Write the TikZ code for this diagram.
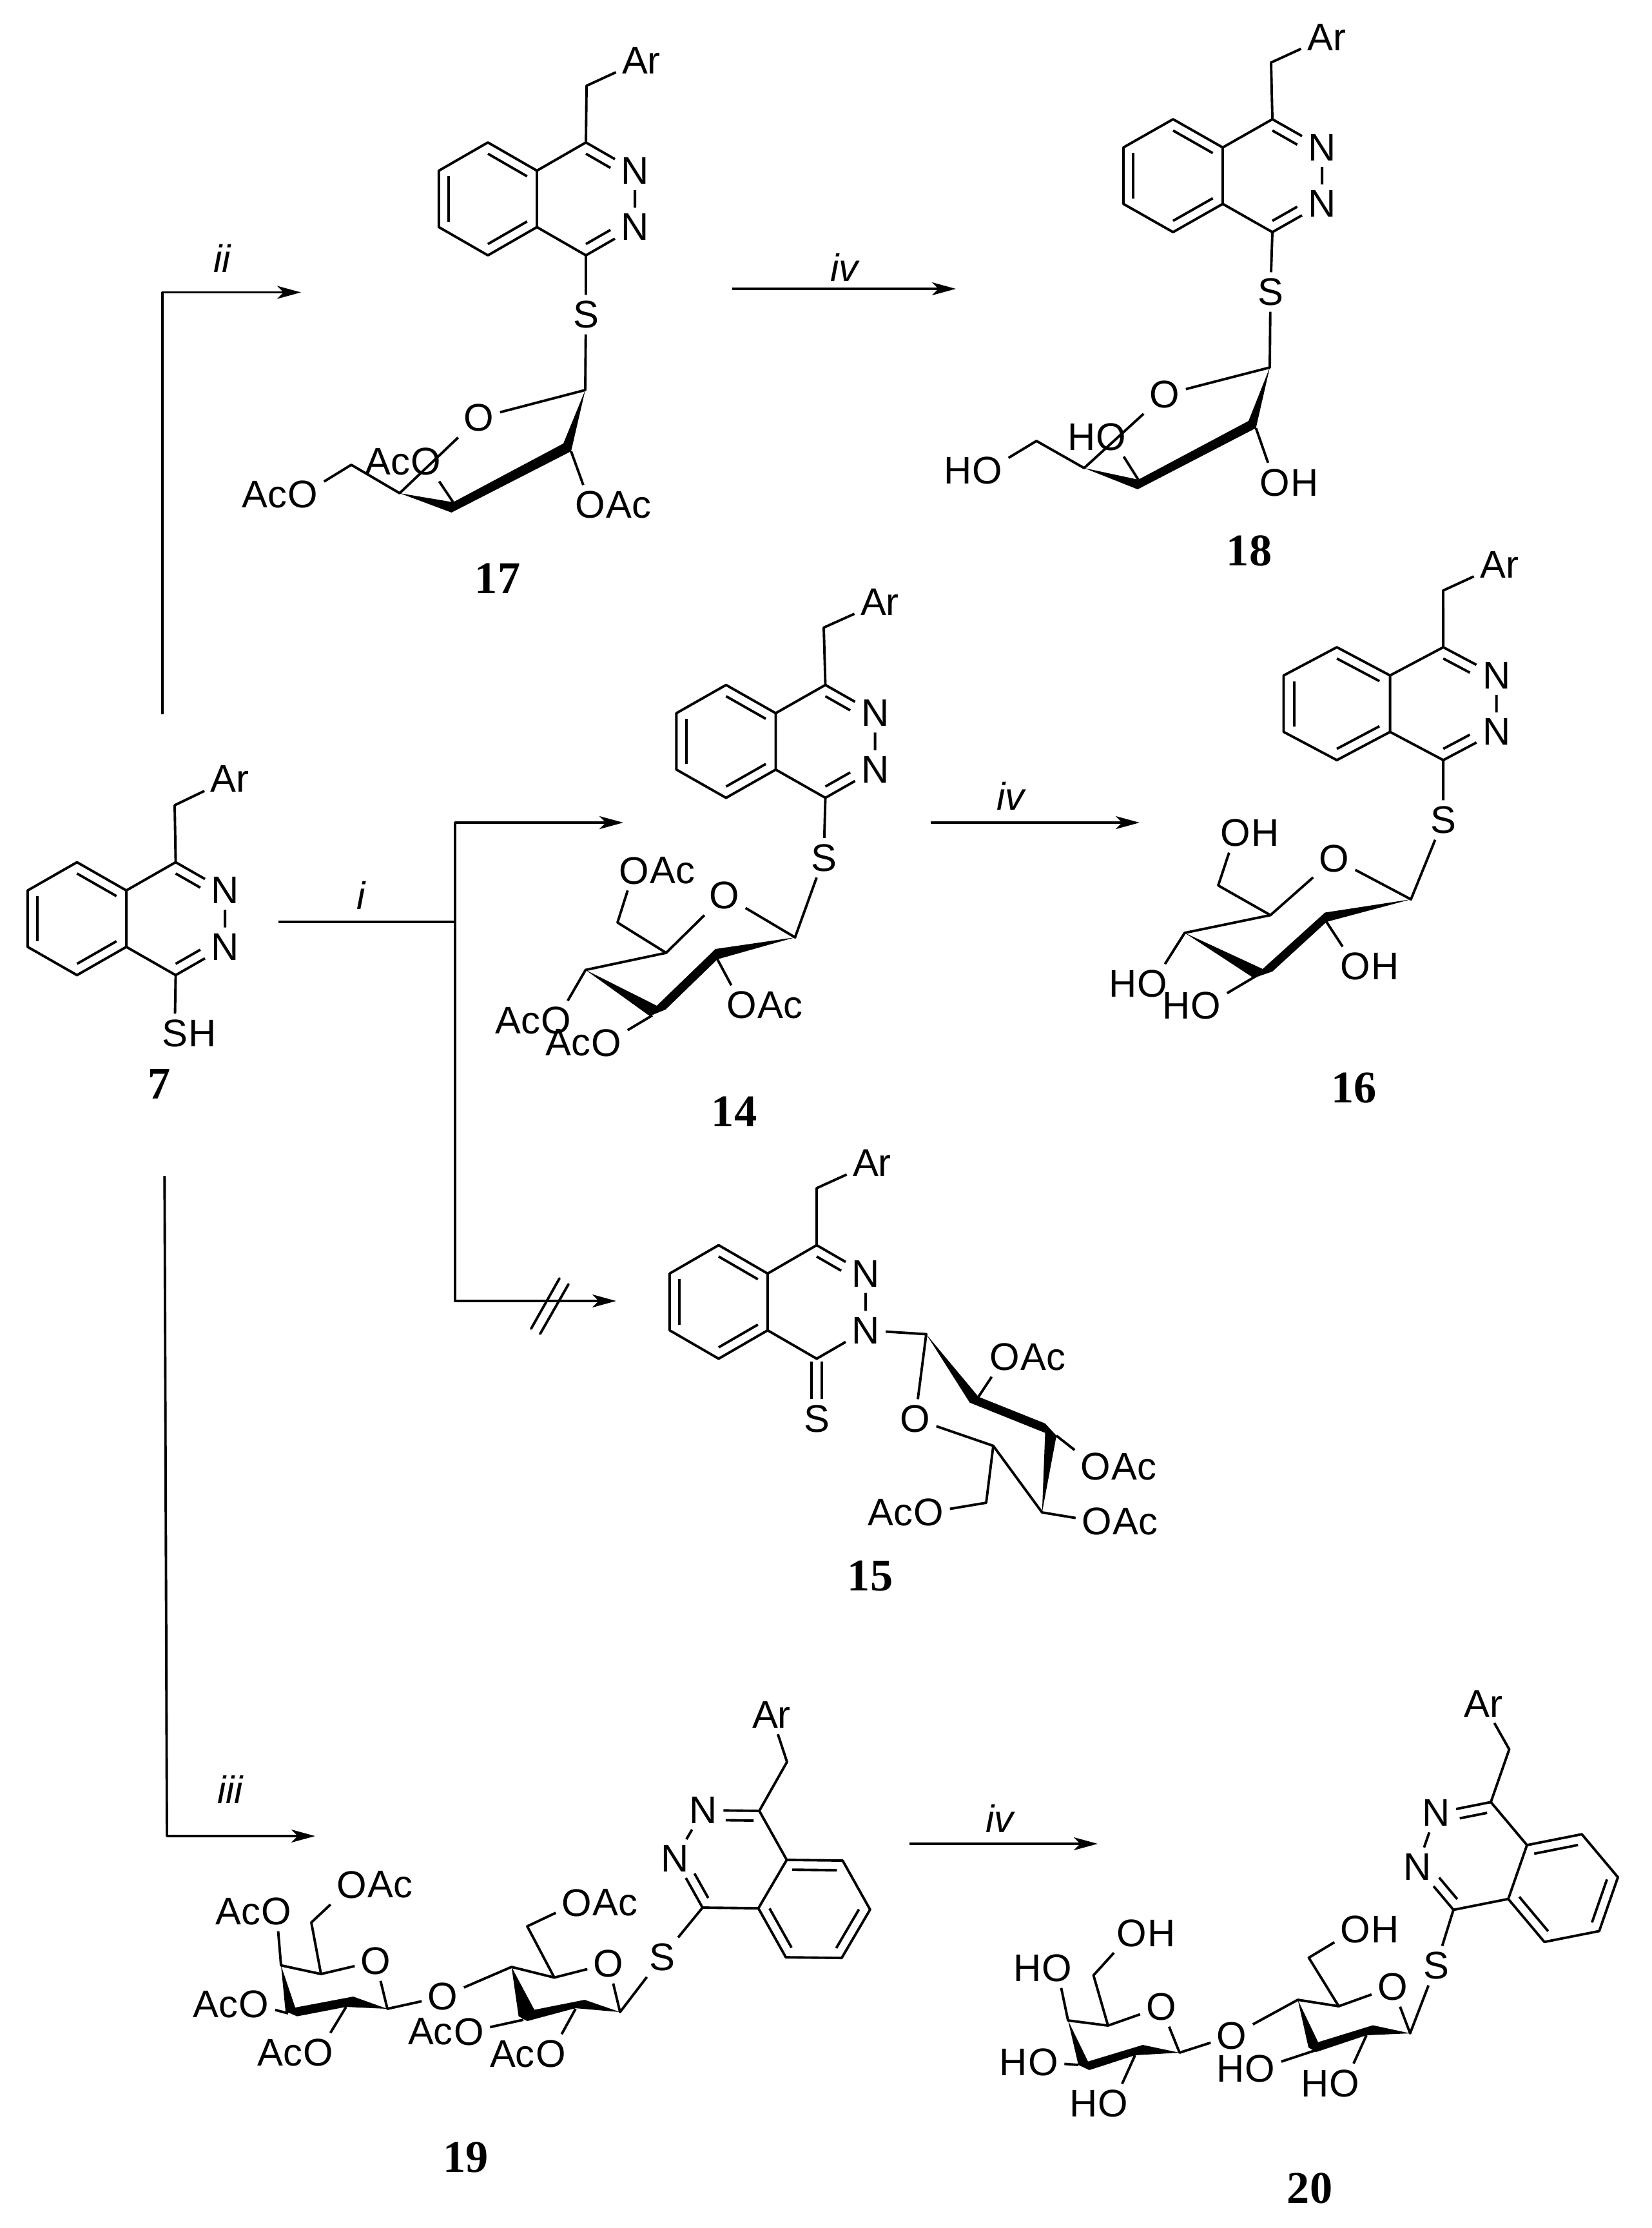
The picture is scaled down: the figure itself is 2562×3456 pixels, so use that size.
\documentclass[tikz,border=0pt]{standalone}
\usepackage{fontspec}
\setmainfont{Liberation Sans}
\newfontfamily\numfont{Liberation Serif}
\usetikzlibrary{arrows.meta}

\begin{document}
\begin{tikzpicture}[x=.01cm,y=-.01cm]

\tikzset{bond/.style = {line width=1.1pt,line join=round}}
\tikzset{arrow/.style = {line width=1.1pt,line join=round,-{Stealth[length=.37cm,width=.2cm,inset=.1cm]}}}
\tikzset{atom/.style = {inner sep=2.5pt,font=\fontsize{17}{20}\selectfont}}
\tikzset{tail/.style = {inner sep=0pt,label distance=-2.5pt,font=\fontsize{17}{20}\selectfont}}
\tikzset{acr/.style = {label={[tail]right:Ac}}}
\tikzset{acl/.style = {label={[tail]left:Ac}}}
\tikzset{hr/.style = {label={[tail]right:H}}}
\tikzset{hl/.style = {label={[tail]left:H}}}
\tikzset{cond/.style = {inner sep=0pt,font=\fontsize{17}{20}\selectfont\itshape}}
\tikzset{num/.style = {inner sep=0pt,font=\fontsize{20}{24}\selectfont\numfont\bfseries}}
\tikzset{phthal/.pic = {
  \coordinate (-j1) at (0,-.5);
  \coordinate (-j2) at (0,.5);
  \coordinate (-c4) at (1,-1);
  \coordinate (-c1) at (1,1);
  \coordinate (-b1) at (-1,-1);
  \coordinate (-b2) at (-2,-.5);
  \coordinate (-b3) at (-2,.5);
  \coordinate (-b4) at (-1,1);
  \node[atom] (-n1) at (2,-.5) {N};
  \node[atom] (-n2) at (2,.5) {N};
  \draw[bond] (-j1) -- (-j2) -- (-c1) -- (-n2) -- (-n1) -- (-c4) -- (-j1) -- (-b1) -- (-b2) -- (-b3) -- (-b4) -- (-j2);
  \draw[bond] (-1,-.8) -- (-.2,-.4);
  \draw[bond] (-1.8,-.4) -- (-1.8,.4);
  \draw[bond] (-1,.8) -- (-.2,.4);
  \draw[bond] (1,-.8) -- (1.5,-.55);
}}
\tikzset{cninner/.pic = {\draw[bond] (1,.8) -- (1.5,.55);}}

\useasboundingbox (0,0) rectangle (2562,3456);

%compound 7
\begin{scope}[shift={(196,1425)},x={(.765cm,0cm)},y={(0cm,-.875cm)}]
\pic (m7) at (0,0) {phthal};
\pic (i7) at (0,0) {cninner};
\end{scope}
\coordinate (ch7) at (271,1249);
\node[atom] (ar7) at (356.5,1208) {Ar};
\node[atom,label={[tail]right:H}] (s7) at (271,1603) {S};
\node[num] (n7) at (247,1681) {7};
\draw[bond] (m7-c4) -- (ch7) -- (ar7);
\draw[bond] (m7-c1) -- (s7);

%compound 17
\begin{scope}[shift={(833,308.5)},x={(.76cm,0cm)},y={(0cm,-.875cm)}]
\pic (m17) at (0,0) {phthal};
\pic (i17) at (0,0) {cninner};
\end{scope}
\coordinate (ch17) at (910,133);
\node[atom] (ar17) at (995,94) {Ar};
\node[atom] (s17) at (909,488) {S};
\coordinate (a17) at (908,605);
\coordinate (b17) at (886,700);
\coordinate (c17) at (703,779);
\coordinate (d17) at (620,765);
\coordinate (e17) at (545,721);
\node[atom] (o17) at (743,648) {O};
\node[atom,acl] (p17) at (661,716) {O};
\node[atom,acl] (q17) at (470,767) {O};
\node[atom,acr] (r17) at (916,783) {O};
\node[num] (n17) at (772,897) {17};
\fill (a17) -- (874,688) -- (c17) -- (d17) -- (700.5,795) -- (b17) -- cycle;
\draw[bond] (m17-c4) -- (ch17) -- (ar17);
\draw[bond] (m17-c1) -- (s17) -- (a17) -- (o17) -- (d17) -- (e17) -- (q17);
\draw[bond] (c17) -- (p17);
\draw[bond] (b17) -- (r17);

%compound 18
\begin{scope}[shift={(1897,272.5)},x={(.77cm,0cm)},y={(0cm,-.875cm)}]
\pic (m18) at (0,0) {phthal};
\pic (i18) at (0,0) {cninner};
\end{scope}
\coordinate (ch18) at (1972,97);
\node[atom] (ar18) at (2058,57.6) {Ar};
\node[atom] (s18) at (1971,453) {S};
\coordinate (a18) at (1970,570);
\coordinate (b18) at (1948.5,664);
\coordinate (c18) at (1766,744);
\coordinate (d18) at (1682,726);
\coordinate (e18) at (1608,684);
\node[atom] (o18) at (1807,612) {O};
\node[atom,hl] (p18) at (1724,677.6) {O};
\node[atom,hl] (q18) at (1532,730) {O};
\node[atom,hr] (r18) at (1978,748.5) {O};
\node[num] (n18) at (1938,854.5) {18};
\fill (a18) -- (1937,653) -- (c18) -- (d18) -- (1765,759) -- (b18) -- cycle;
\draw[bond] (m18-c4) -- (ch18) -- (ar18);
\draw[bond] (m18-c1) -- (s18) -- (a18) -- (o18) -- (d18) -- (e18) -- (q18);
\draw[bond] (c18) -- (p18);
\draw[bond] (b18) -- (r18);

%compound 14
\begin{scope}[shift={(1203.5,1150)},x={(.77cm,0cm)},y={(0cm,-.875cm)}]
\pic (m14) at (0,0) {phthal};
\pic (i14) at (0,0) {cninner};
\end{scope}
\coordinate (ch14) at (1278,973.5);
\node[atom] (ar14) at (1365,934.4) {Ar};
\node[atom] (s14) at (1278,1330.5) {S};
\coordinate (a14) at (1233.5,1454);
\coordinate (b14) at (1113,1488);
\coordinate (c14) at (1012,1575);
\coordinate (d14) at (908.5,1504.5);
\coordinate (e14) at (1033.5,1478);
\coordinate (f14) at (958,1431);
\node[atom] (o14) at (1124,1389) {O};
\node[atom,acr] (p14) at (983.5,1350.6) {O};
\node[atom,acr] (q14) at (1151,1559) {O};
\node[atom,acl] (r14) at (863,1583) {O};
\node[atom,acl] (t14) at (941,1617.6) {O};
\node[num] (n14) at (1139,1724) {14};
\fill (a14) -- (1110,1472) -- (1019,1560) -- (d14) -- (1008,1576) -- (1032.6,1566) -- (b14) -- cycle;
\draw[bond] (m14-c4) -- (ch14) -- (ar14);
\draw[bond] (m14-c1) -- (s14) -- (a14) -- (o14) -- (e14) -- (d14) -- (r14);
\draw[bond] (e14) -- (f14) -- (p14);
\draw[bond] (b14) -- (q14);
\draw[bond] (c14) -- (t14);

%compound 16
\begin{scope}[shift={(2156.6,1091.5)},x={(.825cm,0cm)},y={(0cm,-.875cm)}]
\pic (m16) at (0,0) {phthal};
\pic (i16) at (0,0) {cninner};
\end{scope}
\coordinate (ch16) at (2239,916);
\node[atom] (ar16) at (2326,876) {Ar};
\node[atom] (s16) at (2239,1272) {S};
\coordinate (a16) at (2189,1395);
\coordinate (b16) at (2058,1430);
\coordinate (c16) at (1952,1512);
\coordinate (d16) at (1838,1447);
\coordinate (e16) at (1971,1419.5);
\coordinate (f16) at (1890,1373.5);
\node[atom] (o16) at (2070,1332) {O};
\node[atom,hr] (p16) at (1917,1292) {O};
\node[atom,hr] (q16) at (2103,1499) {O};
\node[atom,hl] (r16) at (1788,1526) {O};
\node[atom,hl] (t16) at (1871,1560) {O};
\node[num] (n16) at (2100.5,1688) {16};
\fill (a16) -- (2055.6,1415.5) -- (1959,1503) -- (d16) -- (1945,1517) -- (1974,1507) -- (b16) -- cycle;
\draw[bond] (m16-c4) -- (ch16) -- (ar16);
\draw[bond] (m16-c1) -- (s16) -- (a16) -- (o16) -- (e16) -- (d16) -- (r16);
\draw[bond] (e16) -- (f16) -- (p16);
\draw[bond] (b16) -- (q16);
\draw[bond] (c16) -- (t16);

%compound 15
\node[atom] (s15) at (1267,2201) {S};
\coordinate (ch15) at (1267,1843);
\node[atom] (ar15) at (1353,1804) {Ar};
\coordinate (a15) at (1437,2069.5);
\coordinate (b15) at (1518,2166.6);
\coordinate (c15) at (1639,2227);
\coordinate (d15) at (1616.7,2346);
\coordinate (e15) at (1541,2242.7);
\coordinate (f15) at (1530,2331);
\node[atom] (o15) at (1420,2201) {O};
\node[atom,acr] (p15) at (1559,2105) {O};
\node[atom,acr] (q15) at (1700,2275) {O};
\node[atom,acr] (r15) at (1701.5,2360) {O};
\node[atom,acl] (t15) at (1441,2346) {O};
\node[num] (n15) at (1350,2445) {15};
\draw[bond,double,double distance=.125cm] (1267,2112) -- (s15);
\begin{scope}[shift={(1191,2019.5)},x={(.76cm,0cm)},y={(0cm,-.88cm)}]
\pic (m15) at (0,0) {phthal};
\end{scope}
\fill (a15) -- (b15) -- (1621.5,2208) -- (c15) -- (d15) -- (1621.5,2222.6) -- (1504.5,2175.7) -- cycle;
\draw[bond] (m15-c4) -- (ch15) -- (ar15);
\draw[bond] (m15-n2) -- (a15) -- (o15) -- (e15) -- (d15) -- (r15);
\draw[bond] (e15) -- (f15) -- (t15);
\draw[bond] (b15) -- (p15);
\draw[bond] (c15) -- (q15);

%compound 19
\begin{scope}[shift={(1198.6,2922.5)},x={(-.646cm,.385cm)},y={(-.44cm,-.75cm)}]
\pic (m19) at (0,0) {phthal};
\pic (i19) at (0,0) {cninner};
\end{scope}
\coordinate (ch19) at (1221,2733);
\node[atom] (ar19) at (1197,2660) {Ar};
\node[atom] (s19) at (1027,3036) {S};
\coordinate (a19) at (962,3121);
\coordinate (b19) at (893,3116);
\coordinate (c19) at (812,3133);
\coordinate (d19) at (793.6,3051);
\coordinate (e19) at (860,3067.5);
\coordinate (f19) at (818,2988);
\node[atom] (o19) at (944,3046) {O};
\node[atom,acr] (p19) at (895,2951.6) {O};
\node[atom,acl] (q19) at (727.5,3151.6) {O};
\node[atom,acl] (r19) at (854.5,3186) {O};
\node[atom] (l19) at (687,3097) {O};
\coordinate (g19) at (601,3116);
\coordinate (h19) at (537,3113);
\coordinate (j19) at (447,3123);
\coordinate (k19) at (436,3048.6);
\coordinate (u19) at (498,3062);
\coordinate (v19) at (483,2982);
\node[atom] (w19) at (583,3042) {O};
\node[atom,acr] (x19) at (545.6,2923.6) {O};
\node[atom,acl] (y19) at (429,2965) {O};
\node[atom,acl] (z19) at (394,3109) {O};
\node[atom,acl] (t19) at (494,3184) {O};
\node[num] (n19) at (722.4,3347) {19};
\fill (d19) -- (829,3117.5) -- (907,3102) -- (a19) -- (892.6,3115) -- (818,3135) -- (804.6,3127.6) -- cycle;
\fill (k19) -- (458,3114) -- (548,3097) -- (g19) -- (537,3113) -- (461,3127.6) -- (443,3120) -- cycle;
\draw[bond] (m19-c4) -- (ch19) -- (ar19);
\draw[bond] (m19-c1) -- (s19) -- (a19) -- (o19) -- (e19) -- (d19) -- (l19) -- (g19) -- (w19) -- (u19) -- (k19) -- (y19);
\draw[bond] (e19) -- (f19) -- (p19);
\draw[bond] (c19) -- (q19);
\draw[bond] (b19) -- (r19);
\draw[bond] (u19) -- (v19) -- (x19);
\draw[bond] (j19) -- (z19);
\draw[bond] (h19) -- (t19);

%compound 20
\begin{scope}[shift={(2354.5,2903.8)},x={(-.705cm,.249cm)},y={(-.29cm,-.835cm)}]
\pic (m20) at (0,0) {phthal};
\pic (i20) at (0,0) {cninner};
\end{scope}
\coordinate (ch20) at (2341.5,2713.5);
\node[atom] (ar20) at (2301.5,2642.6) {Ar};
\node[atom] (s20) at (2228,3049) {S};
\coordinate (a20) at (2187.7,3154);
\coordinate (b20) at (2120,3157);
\coordinate (c20) at (2042,3180);
\coordinate (d20) at (2013.5,3102);
\coordinate (e20) at (2077,3112);
\coordinate (f20) at (2030.5,3036.7);
\node[atom] (o20) at (2160.6,3082) {O};
\node[atom,hr] (p20) at (2103,2993) {O};
\node[atom,hl] (q20) at (1955,3208.6) {O};
\node[atom,hl] (r20) at (2086,3231.5) {O};
\node[atom] (l20) at (1911,3158) {O};
\coordinate (g20) at (1830,3184);
\coordinate (h20) at (1761,3188);
\coordinate (j20) at (1673,3203);
\coordinate (k20) at (1657,3134);
\coordinate (u20) at (1719,3142);
\coordinate (v20) at (1696.5,3064);
\node[atom] (w20) at (1801.5,3113) {O};
\node[atom,hr] (x20) at (1756,2998.5) {O};
\node[atom,hl] (y20) at (1640,3053) {O};
\node[atom,hl] (z20) at (1618.6,3199) {O};
\node[atom,hl] (t20) at (1727,3263) {O};
\node[num] (n20) at (2032,3394) {20};
\fill (d20) -- (2045,3167.7) -- (2130,3141.5) -- (a20) -- (2120,3157) -- (2042,3183) -- (2030,3176) -- cycle;
\fill (k20) -- (1688,3197.7) -- (1773,3172) -- (g20) -- (1761,3188) -- (1690,3211) -- (1673,3203) -- cycle;
\draw[bond] (m20-c4) -- (ch20) -- (ar20);
\draw[bond] (m20-c1) -- (s20) -- (a20) -- (o20) -- (e20) -- (d20) -- (l20) -- (g20) -- (w20) -- (u20) -- (k20) -- (y20);
\draw[bond] (e20) -- (f20) -- (p20);
\draw[bond] (c20) -- (q20);
\draw[bond] (b20) -- (r20);
\draw[bond] (u20) -- (v20) -- (x20);
\draw[bond] (j20) -- (z20);
\draw[bond] (h20) -- (t20);

%arrows
\coordinate (tl1) at (252,1107.5);
\coordinate (tl2) at (252,453.5);
\coordinate (tl3) at (467,453.5);
\coordinate (st1) at (1136,448);
\coordinate (st2) at (1483,448);
\coordinate (mi1) at (432,1430);
\coordinate (mi2) at (706,1430);
\coordinate (mt1) at (706,1276);
\coordinate (mt2) at (967,1276);
\coordinate (mb1) at (706,2018);
\coordinate (mb2) at (956,2018);
\coordinate (sl1) at (868,1983);
\coordinate (sl2) at (824,2061);
\coordinate (sl3) at (882,1992);
\coordinate (sl4) at (838,2069);
\coordinate (ft1) at (1444,1276);
\coordinate (ft2) at (1768,1276);
\coordinate (dn1) at (255.3,1824);
\coordinate (dn2) at (259,2848);
\coordinate (dn3) at (489,2848);
\coordinate (bt1) at (1411,2860);
\coordinate (bt2) at (1703,2860);
\draw[arrow] (tl1) -- (tl2) -- (tl3);
\draw[arrow] (st1) -- (st2);
\draw[bond] (mi1) -- (mi2);
\draw[arrow] (mi2) -- (mt1) -- (mt2);
\draw[arrow] (mi2) -- (mb1) -- (mb2);
\draw[bond,line cap=round] (sl1) -- (sl2);
\draw[bond,line cap=round] (sl3) -- (sl4);
\draw[arrow] (ft1) -- (ft2);
\draw[arrow] (dn1) -- (dn2) -- (dn3);
\draw[arrow] (bt1) -- (bt2);
\node[cond] (l1) at (560,1389) {i};
\node[cond] (l2) at (345,401) {ii};
\node[cond] (l3) at (357,2775.6) {iii};
\node[cond] (l4) at (1310,415) {iv};
\node[cond] (l5) at (1568,1235) {iv};
\node[cond] (l6) at (1551,2821) {iv};

\end{tikzpicture}
\end{document}
